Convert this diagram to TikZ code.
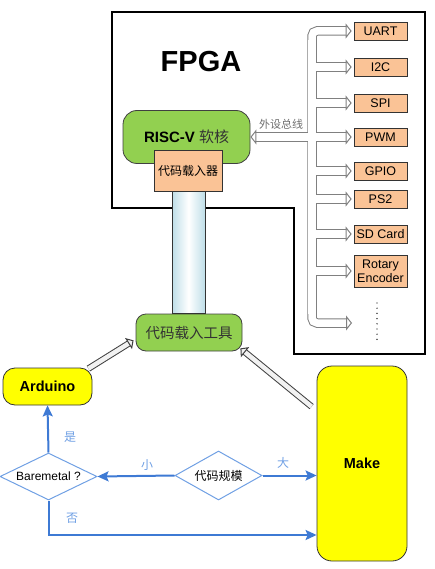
\documentclass[tikz,border=0pt]{standalone}
\usepackage{fontspec}
\setmainfont{Liberation Sans}
\newfontfamily\cjk{Noto Sans CJK SC}
\usetikzlibrary{arrows.meta}
\usetikzlibrary{shapes}
\usetikzlibrary{calc}

\definecolor{coregreen}{RGB}{146,208,80}
\definecolor{peachfill}{RGB}{250,195,150}
\definecolor{makeyellow}{RGB}{255,255,0}
\definecolor{flowblue}{RGB}{62,122,212}
\definecolor{askblue}{RGB}{112,160,228}
\definecolor{notegray}{RGB}{110,110,110}
\definecolor{pipeblue}{RGB}{190,222,232}

\begin{document}
\begin{tikzpicture}[x=1pt,y=-1pt,
  core/.style={draw=black!75, fill=coregreen, line width=0.8pt, rounded corners=14pt, inner sep=0pt},
  periph/.style={draw=black!80, fill=peachfill, line width=0.7pt, minimum width=53pt, minimum height=18pt, inner sep=0pt, font=\fontsize{12.5}{14}\selectfont},
  pick/.style={draw=black!80, fill=makeyellow, line width=0.8pt, inner sep=0pt, font=\fontsize{14.5}{16}\selectfont\bfseries},
  ask/.style={diamond, draw=askblue, line width=1pt, fill=white, shape aspect=2, inner sep=0pt, font=\fontsize{12}{13}\selectfont},
  bus/.style={draw=black!50, double=white, double distance=7.5pt, line width=1pt, shorten >=2pt},
  bustip/.style={-{Triangle[fill=white, length=6pt, width=15pt, line width=1pt]}},
  hollow/.style={draw=black!75, double=black!5, double distance=4.5pt, line width=1pt, -{Triangle[fill=black!5, length=6pt, width=13pt, line width=1pt]}},
  flow/.style={draw=flowblue, line width=2pt, -{Stealth[length=11pt,width=10pt,inset=2pt]}},
  tag/.style={text=askblue, font=\fontsize{12}{13}\selectfont\cjk}]

\useasboundingbox (0,0) rectangle (435,569);

\draw[line width=1.3pt] (112,12) -- (425,12) -- (425,354) -- (294,354) -- (294,208) -- (112,208) -- cycle;
\node[font=\fontsize{29}{30}\selectfont\bfseries] (fpga) at (201,62) {FPGA};

\node[core, minimum width=127pt, minimum height=53pt, font=\fontsize{15}{16}\selectfont] (risc) at (186.5,137) {\textbf{RISC-V} {\cjk\color{black!80}软核}};
\node[periph, minimum width=68pt, minimum height=41pt, font=\fontsize{12}{14}\selectfont\cjk] (loader) at (188,170.5) {代码载入器};
\node[core, rounded corners=10pt, minimum width=106pt, minimum height=37pt, font=\fontsize{14.5}{16}\selectfont\cjk, text=black!80] (tool) at (189,332.5) {代码载入工具};

\draw[black!80, line width=0.7pt, left color=pipeblue, right color=pipeblue, middle color=white] ($(loader.south)+(-16,0)$) rectangle ($(tool.north)+(16,0)$);

\node[periph] (uart) at (380.5,31) {UART};
\node[periph] (i2c) at (380.5,67) {I2C};
\node[periph] (spi) at (380.5,103) {SPI};
\node[periph] (pwm) at (380.5,137) {PWM};
\node[periph] (gpio) at (380.5,171) {GPIO};
\node[periph] (ps2) at (380.5,199) {PS2};
\node[periph] (sd) at (380.5,234) {SD Card};
\node[periph, minimum height=32pt, align=center] (rot) at (380.5,271) {Rotary\\Encoder};

\coordinate (bus) at (312,137);
\coordinate (more) at (354,323);

\begin{scope}[bustip]
\draw[bus, rounded corners=5pt] (bus) |- (uart.west);
\draw[bus, rounded corners=5pt] (bus) |- (more);
\draw[bus] (i2c.west -| bus) -- (i2c.west);
\draw[bus] (spi.west -| bus) -- (spi.west);
\draw[bus] (gpio.west -| bus) -- (gpio.west);
\draw[bus] (ps2.west -| bus) -- (ps2.west);
\draw[bus] (sd.west -| bus) -- (sd.west);
\draw[bus] (rot.west -| bus) -- (rot.west);
\draw[bus, {Triangle[fill=white, length=6pt, width=15pt, line width=1pt]}-{Triangle[fill=white, length=6pt, width=15pt, line width=1pt]}] (risc.east) -- (pwm.west);
\end{scope}
\draw[white, line width=7.5pt] ($(uart.west -| bus)+(0,9)$) -- ($(more -| bus)+(0,-9)$);

\node[text=notegray, font=\fontsize{11}{12}\selectfont\cjk] (buslabel) at (281,124) {外设总线};
\draw[line width=1.4pt, line cap=round, dash pattern=on 0pt off 5.2pt] (377,303) -- (377,340);

\node[pick, rounded corners=12pt, minimum width=89pt, minimum height=37pt] (arduino) at (47.5,386.5) {Arduino};
\node[pick, rounded corners=15pt, minimum width=90pt, minimum height=195pt] (make) at (362,463.5) {Make};
\node[ask, minimum width=97pt, minimum height=47pt] (bare) at (48.5,476.5) {Baremetal ?};
\node[ask, minimum width=87pt, minimum height=49pt, font=\fontsize{12}{13}\selectfont\cjk] (scale) at (218.5,475.5) {代码规模};

\draw[hollow] ($(arduino.north east)+(-4,1)$) -- ($(tool.south west)+(-2,-11)$);
\draw[hollow] ($(make.north west)+(-5,41)$) -- ($(tool.south east)+(-2,-3)$);

\draw[flow] (scale.west) -- (bare.east);
\draw[flow] (scale.east) -- (scale.east -| make.west);
\draw[flow] (bare.north) -- (arduino.south);
\draw[flow] (bare.south) |- ($(make.west)+(0,71.5)$);

\node[tag] (small) at (147,465) {小};
\node[tag] (large) at (283,463) {大};
\node[tag] (yes) at (70,437) {是};
\node[tag] (no) at (72,518) {否};
\end{tikzpicture}
\end{document}
